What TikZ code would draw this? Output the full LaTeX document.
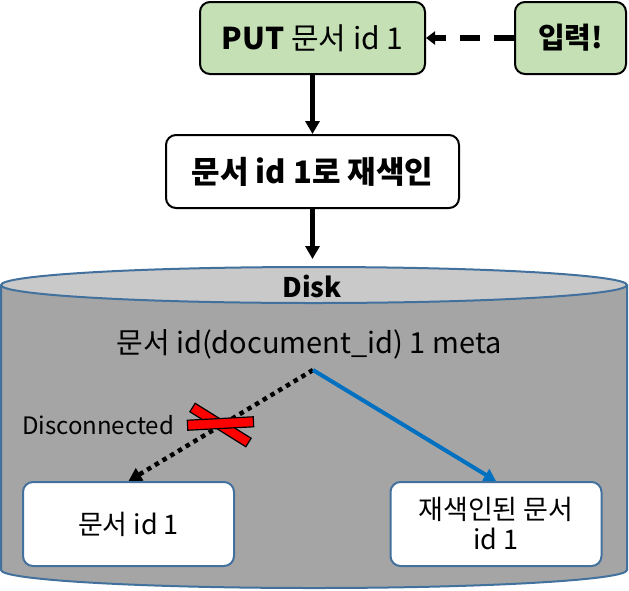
\documentclass[tikz,border=0pt]{standalone}
\usepackage{fontspec}
\setmainfont{Noto Sans CJK KR}
\usetikzlibrary{positioning,arrows.meta}
\definecolor{boxgreen}{HTML}{C5E0B4}
\definecolor{diskline}{HTML}{41719C}
\definecolor{disktop}{HTML}{C9C9C9}
\definecolor{diskbody}{HTML}{A5A5A5}
\definecolor{newlink}{HTML}{0070C0}
\begin{document}
\begin{tikzpicture}[x=1pt, y=-1pt, thick,
  main node/.style={draw, line width=2pt, rounded corners=10pt, align=center, font=\fontsize{30}{34}\selectfont},
  green node/.style={main node, fill=boxgreen, minimum height=72pt},
  doc node/.style={main node, draw=diskline, fill=white, minimum width=211pt, minimum height=84pt, font=\fontsize{27}{30}\selectfont},
  cut/.style={draw=black, line width=1.2pt, fill=red, minimum width=66pt, minimum height=10pt, inner sep=0pt},
  link/.style={-{Triangle[length=13pt,width=14pt]}, line width=4.3pt}]
\useasboundingbox (0,0) rectangle (629,590);

% disk
\fill[diskbody] (1,285) -- (1,570) arc[start angle=180, end angle=0, x radius=313, y radius=18] -- (627,285) -- cycle;
\draw[diskline, line width=2pt] (1,285) -- (1,570) arc[start angle=180, end angle=0, x radius=313, y radius=18] -- (627,285);
\draw[diskline, line width=2pt, fill=disktop] (314,285) ellipse[x radius=313, y radius=18];

\node[green node, minimum width=225pt] (put) at (312.5,38) {\textbf{PUT} 문서 id 1};
\node[green node, minimum width=111pt, font=\fontsize{29}{34}\selectfont] (input) at (570.5,38) {\textbf{입력!}};
\node[main node, fill=white, minimum width=293pt, minimum height=73pt, font=\fontsize{31}{34}\selectfont] (reindex) at (312.5,171.5) {\textbf{문서 id 1로 재색인}};
\coordinate (disk) at (312.5,259);
\node[font=\fontsize{27}{30}\selectfont\bfseries] (label) at (312,286) {Disk};
\node[font=\fontsize{29}{32}\selectfont] (meta) at (309,344) {문서 id(document\_id) 1 meta};
\coordinate (split) at (313,370);
\node[font=\fontsize{24}{28}\selectfont] (note) at (98,425) {Disconnected};
\node[doc node] (old) at (128.5,524) {문서 id 1};
\node[doc node] (new) at (496,524) {재색인된 문서\\id 1};

\path[link]
    (put) edge (reindex)
    (reindex) edge (disk);
\draw[link, dash pattern=on 20pt off 14pt, line width=6pt, -{Triangle[length=9pt,width=13pt]}] (input) -- (put);
\draw[link, line width=4.5pt, dash pattern=on 4.5pt off 4.5pt] (split) -- (old.north);
\draw[link, newlink, line width=4pt, -{Triangle[length=12pt,width=13pt]}] (split) -- (new.north);

% the cross
\node[cut, rotate=-32] (cut2) at (220.5,425) {};
\node[cut, rotate=3] (cut1) at (220.5,423.5) {};

\end{tikzpicture}
\end{document}
